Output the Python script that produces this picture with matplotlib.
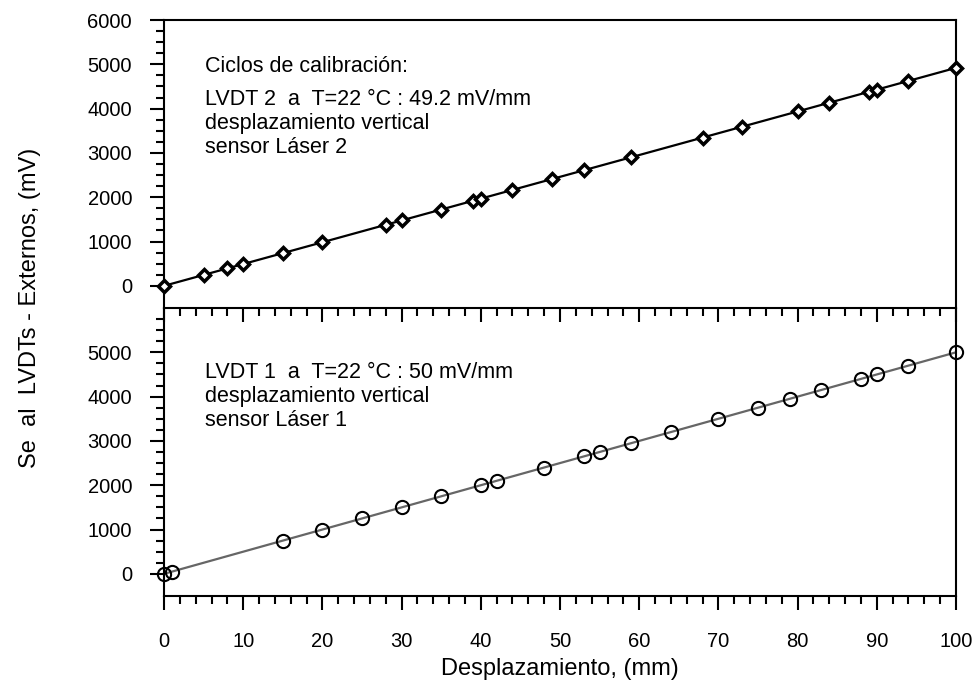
import matplotlib
matplotlib.use("Agg")
import matplotlib.pyplot as plt
from matplotlib.ticker import FixedLocator, NullFormatter
import numpy as np

plt.rcParams['font.family'] = ['Liberation Sans', 'DejaVu Sans']

# Top panel: LVDT 2 (diamonds)
top_x = [0, 5, 8, 10, 15, 20, 28, 30, 35, 39, 40, 44, 49, 53, 59, 68, 73, 80, 84, 89, 90, 94, 100]
top_y = [0, 246, 394, 492, 738, 984, 1378, 1476, 1722, 1919, 1968, 2165, 2411, 2608, 2903,
         3346, 3592, 3936, 4133, 4379, 4428, 4625, 4920]

# Bottom panel: LVDT 1 (circles)
bot_x = [0, 1, 15, 20, 25, 30, 35, 40, 42, 48, 53, 55, 59, 64, 70, 75, 79, 83, 88, 90, 94, 100]
bot_y = [0, 50, 750, 1000, 1250, 1500, 1750, 2000, 2100, 2400, 2650, 2750, 2950, 3200, 3500,
         3750, 3950, 4150, 4400, 4500, 4700, 5000]

x_major = [0, 10, 20, 30, 40, 50, 60, 70, 80, 90, 100]
top_y_major = [0, 1000, 2000, 3000, 4000, 5000, 6000]
bot_y_major = [0, 1000, 2000, 3000, 4000, 5000]

top_lines = ["Ciclos de calibración:", "LVDT 2  a  T=22 °C : 49.2 mV/mm",
             "desplazamiento vertical", "sensor Láser 2"]
bot_lines = ["LVDT 1  a  T=22 °C : 50 mV/mm", "desplazamiento vertical", "sensor Láser 1"]

W, H = 979, 687
fig = plt.figure(figsize=(W / 100, H / 100), dpi=100)

L = 164 / W
Wd = (956 - 164) / W
ax2 = fig.add_axes([L, (H - 596) / H, Wd, 288 / H])
ax1 = fig.add_axes([L, (H - 308) / H, Wd, 288 / H])
ax1.patch.set_alpha(0)
ax2.patch.set_alpha(0)

lw_sp = 1.5
for ax in (ax1, ax2):
    ax.set_xlim(0, 100)
    ax.set_ylim(-500, 6000)
    for s in ax.spines.values():
        s.set_linewidth(lw_sp)
    ax.xaxis.set_major_locator(FixedLocator(x_major))
    ax.xaxis.set_minor_locator(FixedLocator(np.arange(0, 101, 2)))
    ax.tick_params(axis='both', which='major', direction='out', length=10, width=1.5,
                   labelsize=14.5, top=False, right=False)
    ax.tick_params(axis='both', which='minor', direction='out', length=5.5, width=1.5,
                   top=False, right=False)
    ax.tick_params(axis='y', which='major', pad=13)
    ax.tick_params(axis='x', which='major', pad=16)

# Top panel
ax1.yaxis.set_major_locator(FixedLocator(top_y_major))
ax1.yaxis.set_minor_locator(FixedLocator(np.arange(0, 6001, 250)))
ax1.xaxis.set_major_formatter(NullFormatter())
ax1.plot(top_x, top_y, color='black', lw=1.6, marker='D', ms=6, mfc='white',
         mec='black', mew=2.5, clip_on=False, zorder=3)

# Bottom panel
ax2.spines['top'].set_visible(False)
ax2.yaxis.set_major_locator(FixedLocator(bot_y_major))
ax2.yaxis.set_minor_locator(FixedLocator(np.arange(0, 5751, 250)))
ax2.plot(bot_x, bot_y, color='#666666', lw=1.6, zorder=2)
ax2.plot(bot_x, bot_y, ls='none', marker='o', ms=9.5, mfc='none', mec='black',
         mew=1.5, clip_on=False, zorder=3)

# Annotations
tx = 5.2
ax1.text(tx, 4827, top_lines[0], fontsize=15.5, va='baseline', ha='left')
for i, t in enumerate(top_lines[1:]):
    ax1.text(tx, 4083 - i * 541, t, fontsize=15.5, va='baseline', ha='left')
for i, t in enumerate(bot_lines):
    ax2.text(tx, 4414 - i * 541, t, fontsize=15.5, va='baseline', ha='left')

ax2.set_xlabel("Desplazamiento, (mm)", fontsize=17, labelpad=5)
fig.text(30 / W, 1 - 308 / H, "Se  al  LVDTs - Externos, (mV)", rotation=90,
         fontsize=17, ha='center', va='center')

fig.savefig("out.png", dpi=100)
